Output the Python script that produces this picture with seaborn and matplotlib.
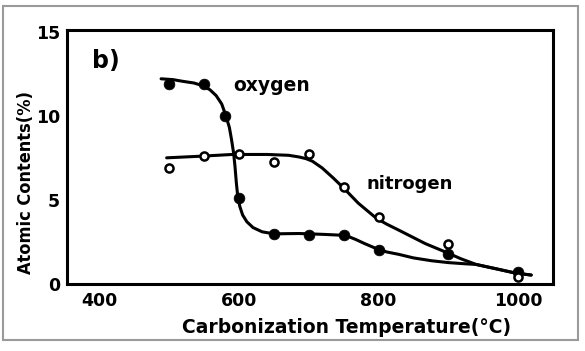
import matplotlib
matplotlib.use('Agg')
import matplotlib.pyplot as plt
import seaborn as sns
from matplotlib.patches import Rectangle


oxygen_temp = [500, 550, 580, 600, 650, 700, 750, 800, 900, 1000]
oxygen_pct = [11.9, 11.9, 10.0, 5.1, 3.0, 2.9, 2.9, 2.0, 1.8, 0.72]
nitrogen_temp = [500, 550, 600, 650, 700, 750, 800, 900, 1000]
nitrogen_pct = [6.9, 7.6, 7.7, 7.25, 7.7, 5.75, 4.0, 2.35, 0.42]

# hand drawn trend curves
oxygen_curve_temp = [488, 505, 519, 535, 547, 558, 567, 575, 581, 586, 589, 592, 594,
                     596, 598, 601, 605, 611, 620, 633, 650, 686, 720, 746, 758, 767,
                     780, 797, 812, 829, 850, 876, 900, 924, 940, 971, 996, 1019]
oxygen_curve_pct = [12.2, 12.15, 12.05, 11.95, 11.8, 11.55, 11.2, 10.7, 10.0, 9.3, 8.6,
                    7.8, 7.0, 6.0, 5.2, 4.6, 4.1, 3.7, 3.35, 3.1, 2.98, 3.0, 2.95, 2.9,
                    2.8, 2.65, 2.4, 2.1, 1.9, 1.76, 1.55, 1.38, 1.27, 1.2, 1.16, 0.88,
                    0.65, 0.53]
nitrogen_curve_temp = [496, 547, 590, 640, 671, 686, 696, 705, 712, 719, 727, 735, 750,
                       771, 797, 812, 829, 848, 867, 896, 918, 940, 971, 996, 1019]
nitrogen_curve_pct = [7.5, 7.6, 7.7, 7.7, 7.65, 7.55, 7.45, 7.3, 7.1, 6.9, 6.6, 6.3,
                      5.7, 4.8, 3.9, 3.55, 3.2, 2.8, 2.4, 1.9, 1.5, 1.16, 0.88, 0.65, 0.53]


sns.set_style('white')
plt.rcParams['font.family'] = ['DejaVu Sans']
plt.rcParams['text.color'] = 'black'
plt.rcParams['axes.labelcolor'] = 'black'
plt.rcParams['xtick.color'] = 'black'
plt.rcParams['ytick.color'] = 'black'

fig = plt.figure(figsize=(5.85, 3.51), dpi=100)
ax = fig.add_axes([0.1145, 0.191, 0.8305, 0.7235])

sns.lineplot(x=oxygen_curve_temp, y=oxygen_curve_pct, ax=ax, color='black',
             linewidth=2.2, sort=False, estimator=None)
sns.lineplot(x=nitrogen_curve_temp, y=nitrogen_curve_pct, ax=ax, color='black',
             linewidth=2.2, sort=False, estimator=None)
for line in ax.get_lines():
    line.set_solid_joinstyle('round')
    line.set_solid_capstyle('round')

sns.scatterplot(x=oxygen_temp, y=oxygen_pct, ax=ax, color='black', s=60,
                edgecolor='black', linewidth=0.5, zorder=3)
sns.scatterplot(x=nitrogen_temp, y=nitrogen_pct, ax=ax, color='white', s=34,
                edgecolor='black', linewidth=1.8, zorder=3)

ax.set_xlim(353, 1050)
ax.set_ylim(0, 15.1)
ax.set_xticks([400, 600, 800, 1000])
ax.set_xticks([500, 700, 900], minor=True)
ax.set_yticks([0, 5, 10, 15])
ax.tick_params(axis='x', which='both', direction='in', length=5, width=1.5,
               labelsize=12.5, pad=6)
ax.tick_params(axis='y', direction='out', length=4, width=1.5, labelsize=12.5, pad=1)
for lab in ax.get_xticklabels() + ax.get_yticklabels():
    lab.set_fontweight('bold')
for s in ax.spines.values():
    s.set_linewidth(2.2)
    s.set_color('black')

ax.set_xlabel('Carbonization Temperature(°C)', fontsize=13.5, fontweight='bold', labelpad=5)
ax.xaxis.set_label_coords(0.576, -0.135)
ax.set_ylabel('Atomic Contents(%)', fontsize=13, fontweight='bold', fontstretch='condensed')
ax.yaxis.set_label_coords(-0.066, 0.40)

ax.text(0.052, 0.878, 'b)', transform=ax.transAxes, fontsize=17, fontweight='bold',
        va='center')
ax.text(646, 11.8, 'oxygen', fontsize=13.5, fontweight='bold', ha='center', va='center')
ax.text(844, 5.95, 'nitrogen', fontsize=13, fontweight='bold', ha='center', va='center')

fig.patches.append(Rectangle((0.005, 0.03), 0.983, 0.953, transform=fig.transFigure,
                             fill=False, edgecolor='#9a9a9a', linewidth=1.5))

fig.savefig('out.png', dpi=100)
